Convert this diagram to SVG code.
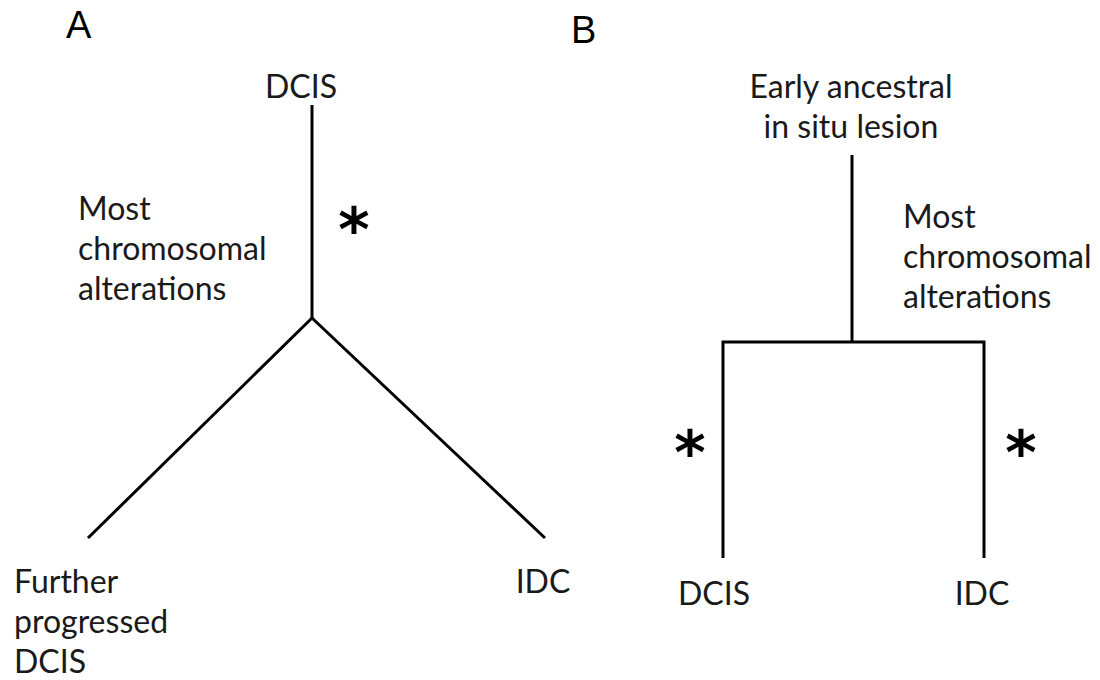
<svg xmlns="http://www.w3.org/2000/svg" width="1100" height="680" viewBox="0 0 1100 680">
  <style>
    .panel { font-family: "Liberation Sans", Arial, sans-serif; font-size: 38px; fill: #000; }
    .lbl { font-family: Lato, "Open Sans", sans-serif; font-size: 32px; fill: #1a1a1a; }
    .star { font-family: "DejaVu Sans", sans-serif; font-weight: bold; font-size: 60px; fill: #000; }
    .edge { stroke: #000; stroke-width: 3; fill: none; stroke-linecap: butt; stroke-linejoin: miter; }
  </style>
  <rect width="1100" height="680" fill="#fff"/>

  <!-- panel letters -->
  <text class="panel" x="66" y="38">A</text>
  <text class="panel" x="571" y="43">B</text>

  <!-- tree edges -->
  <g id="connectors">
    <!-- panel A: single trunk splitting into two branches -->
    <path class="edge" d="M312,105 V318"/>
    <path class="edge" d="M88,538 L312,318 L545,538"/>
    <!-- panel B: ancestral trunk, crossbar and two descendants -->
    <path class="edge" d="M852,155 V342"/>
    <path class="edge" d="M723,558 V342 H984 V558"/>
  </g>

  <!-- panel A nodes -->
  <g id="a-dcis"><text class="lbl" x="301" y="98" text-anchor="middle">DCIS</text></g>
  <g id="a-note">
    <text class="lbl" x="78" y="220">Most</text>
    <text class="lbl" x="78" y="260">chromosomal</text>
    <text class="lbl" x="78" y="300">alterations</text>
  </g>
  <g id="a-star"><text class="star" x="354" y="251" text-anchor="middle">*</text></g>
  <g id="a-further">
    <text class="lbl" x="14" y="593">Further</text>
    <text class="lbl" x="14" y="633">progressed</text>
    <text class="lbl" x="14" y="673">DCIS</text>
  </g>
  <g id="a-idc"><text class="lbl" x="543" y="593" text-anchor="middle">IDC</text></g>

  <!-- panel B nodes -->
  <g id="b-ancestor">
    <text class="lbl" x="851" y="98" text-anchor="middle">Early ancestral</text>
    <text class="lbl" x="851" y="138" text-anchor="middle">in situ lesion</text>
  </g>
  <g id="b-note">
    <text class="lbl" x="903" y="228">Most</text>
    <text class="lbl" x="903" y="268">chromosomal</text>
    <text class="lbl" x="903" y="308">alterations</text>
  </g>
  <g id="b-star-left"><text class="star" x="690" y="474" text-anchor="middle">*</text></g>
  <g id="b-star-right"><text class="star" x="1021" y="474" text-anchor="middle">*</text></g>
  <g id="b-dcis"><text class="lbl" x="714" y="605" text-anchor="middle">DCIS</text></g>
  <g id="b-idc"><text class="lbl" x="982" y="605" text-anchor="middle">IDC</text></g>
</svg>
